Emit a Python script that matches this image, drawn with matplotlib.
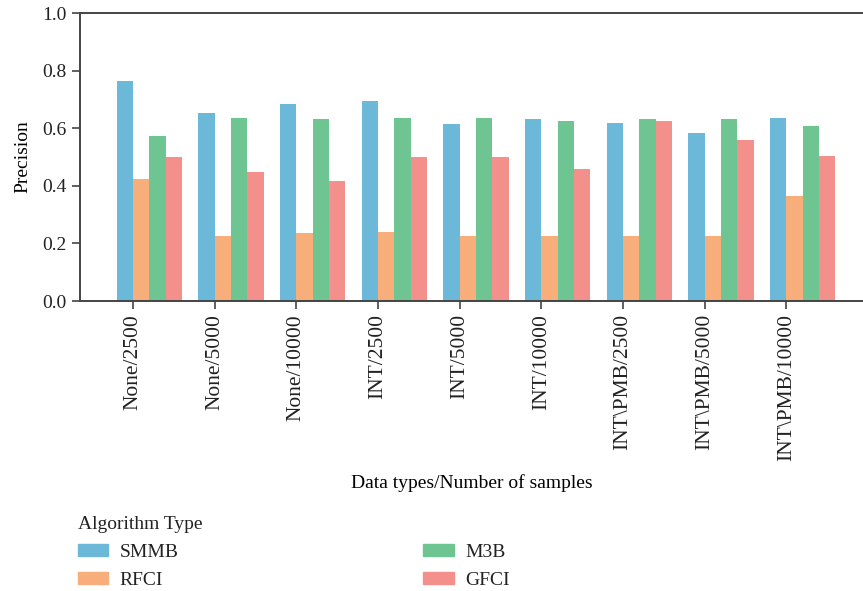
import numpy as np
import matplotlib
matplotlib.use("Agg")
from matplotlib import pyplot as plt
from matplotlib.patches import Patch

categories = ["None/2500", "None/5000", "None/10000", "INT/2500", "INT/5000",
              "INT/10000", "INT\\PMB/2500", "INT\\PMB/5000", "INT\\PMB/10000"]
smmb = [0.765, 0.653, 0.685, 0.695, 0.615, 0.633, 0.619, 0.584, 0.636]
rfci = [0.424, 0.226, 0.236, 0.240, 0.226, 0.226, 0.226, 0.226, 0.365]
m3b = [0.574, 0.636, 0.633, 0.636, 0.636, 0.626, 0.633, 0.633, 0.608]
gfci = [0.500, 0.448, 0.417, 0.500, 0.500, 0.459, 0.626, 0.560, 0.504]
series_names = ["SMMB", "RFCI", "M3B", "GFCI"]
colors = ["#6bb8d8", "#f7ae7b", "#6ec592", "#f4908b"]

plt.rcParams["font.family"] = ["Liberation Serif", "DejaVu Serif"]
plt.rcParams["font.size"] = 14

fig = plt.figure(figsize=(8.63, 5.91), dpi=100)
ax = fig.add_axes([80 / 863, 1 - 301 / 591, 1 - 80 / 863, (301 - 13) / 591])

x = np.arange(len(categories))
w = 0.2
offsets = [-0.1, 0.1, 0.3, 0.5]
for vals, off, c in zip([smmb, rfci, m3b, gfci], offsets, colors):
    ax.bar(x + off, vals, width=w, color=c, linewidth=0)

ax.set_xlim(-0.65, 8.94)
ax.set_ylim(0, 1.0)
ax.set_yticks([0.0, 0.2, 0.4, 0.6, 0.8, 1.0])
ax.set_yticklabels(["0.0", "0.2", "0.4", "0.6", "0.8", "1.0"])
ax.set_xticks(x)
ax.set_xticklabels(categories, rotation=90, fontsize=15.5)
ax.set_ylabel("Precision", labelpad=8)
ax.set_xlabel("Data types/Number of samples", labelpad=9)

for s in ["left", "top", "bottom"]:
    ax.spines[s].set_color("#444444")
    ax.spines[s].set_linewidth(1.4)
ax.spines["right"].set_visible(False)
ax.tick_params(colors="#444444", labelcolor="#222222", length=6, width=1.2)

handles = [Patch(color=c, label=n) for c, n in zip(colors, series_names)]
leg = fig.legend(handles=handles, ncol=2, loc="upper left",
                 bbox_to_anchor=(64 / 863, 1 - 502 / 591), frameon=False,
                 title="Algorithm Type", alignment="left",
                 handlelength=1.55, handleheight=0.55, handletextpad=0.6,
                 columnspacing=12.6, labelspacing=0.58, borderpad=0.2)
for t in leg.get_texts():
    t.set_color("#222222")
leg.get_title().set_color("#222222")

fig.savefig("out.png", dpi=100)
